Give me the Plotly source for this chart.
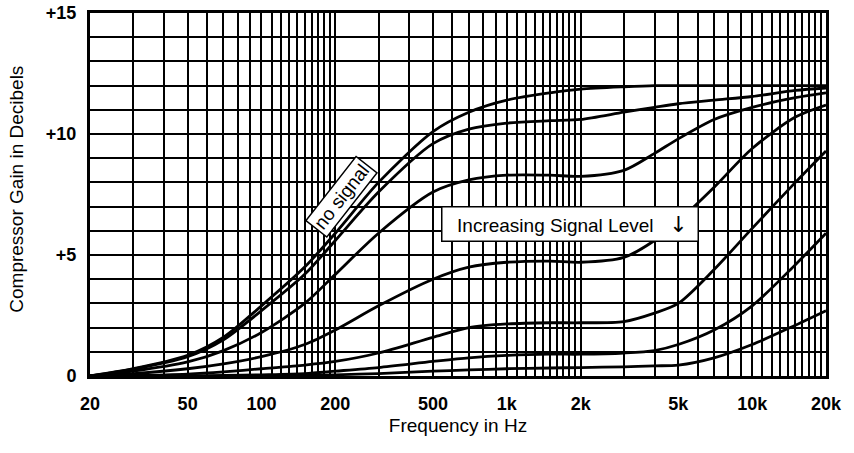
import plotly.graph_objects as go

freq = [20, 30, 50, 70, 100, 150, 200, 300, 500, 700, 1000, 1500, 2000, 3000, 4000, 5000, 7000, 10000, 15000, 20000]

# compressor gain (dB) for each signal level, top curve = no signal
gain_a = [0, 0.3, 0.85, 1.6, 2.9, 4.5, 5.9, 8.0, 10.1, 10.9, 11.4, 11.7, 11.85, 11.95, 12.0, 12.0, 12.0, 12.0, 12.0, 12.0]
gain_b = [0, 0.28, 0.8, 1.5, 2.7, 4.2, 5.6, 7.6, 9.6, 10.2, 10.45, 10.55, 10.6, 10.9, 11.1, 11.25, 11.4, 11.55, 11.8, 11.9]
gain_c = [0, 0.2, 0.58, 1.05, 1.8, 3.0, 4.2, 5.9, 7.6, 8.1, 8.3, 8.3, 8.25, 8.5, 9.2, 9.8, 10.6, 11.1, 11.5, 11.7]
gain_d = [0, 0.1, 0.3, 0.5, 0.8, 1.3, 1.9, 2.9, 4.0, 4.5, 4.7, 4.75, 4.7, 4.9, 5.6, 6.4, 7.8, 9.4, 10.7, 11.2]
gain_e = [0, 0.02, 0.08, 0.17, 0.3, 0.45, 0.6, 0.95, 1.6, 2.0, 2.15, 2.2, 2.2, 2.25, 2.6, 3.0, 4.4, 6.1, 8.0, 9.3]
gain_f = [0, 0, 0, 0.02, 0.05, 0.1, 0.2, 0.35, 0.6, 0.75, 0.85, 0.9, 0.9, 0.95, 1.05, 1.3, 1.9, 2.9, 4.6, 5.9]
gain_g = [0, 0, 0, 0, 0.02, 0.03, 0.05, 0.1, 0.2, 0.25, 0.3, 0.33, 0.35, 0.38, 0.42, 0.45, 0.75, 1.3, 2.1, 2.7]
curves = [gain_a, gain_b, gain_c, gain_d, gain_e, gain_f, gain_g]

x_tickvals = [20, 50, 100, 200, 500, 1000, 2000, 5000, 10000, 20000]
x_ticktext = ['20', '50', '100', '200', '500', '1k', '2k', '5k', '10k', '20k']
y_tickvals = [0, 5, 10, 15]
y_ticktext = ['0', '+5', '+10', '+15']

# log graph paper style grid
x_grid = (list(range(20, 100, 10)) + list(range(100, 200, 10)) + list(range(200, 1000, 100))
          + list(range(1000, 2000, 100)) + list(range(2000, 10000, 1000)) + list(range(10000, 20001, 1000)))

FONT = 'Liberation Sans, Arial, sans-serif'

fig = go.Figure()
for g in curves:
    fig.add_trace(go.Scatter(x=freq, y=g, mode='lines',
                             line=dict(color='black', width=2.8, shape='spline', smoothing=0.8),
                             showlegend=False, hoverinfo='skip'))

fig.add_annotation(x=2.325, y=7.4, xref='x', yref='y', text='no signal', showarrow=False,
                   textangle=-52, font=dict(family=FONT, size=19, color='black'),
                   bgcolor='white', bordercolor='black', borderwidth=1.5, borderpad=2)
fig.add_annotation(x=3.258, y=6.3, xref='x', yref='y',
                   text=('&nbsp;&nbsp;Increasing Signal Level&nbsp;&nbsp;&nbsp;'
                         '<span style="font-size:22px;color:black;font-family:DejaVu Sans">\u2193</span>&nbsp;'),
                   showarrow=False, font=dict(family=FONT, size=19, color='black'),
                   bgcolor='white', bordercolor='black', borderwidth=1.5, borderpad=4)

# y axis title placed as an annotation so it sits close to the left edge like the original
fig.add_annotation(x=-0.101, y=0.515, xref='paper', yref='paper', text='Compressor Gain in Decibels',
                   textangle=-90, showarrow=False, xanchor='center', yanchor='middle',
                   font=dict(family=FONT, size=19, color='black'))

fig.update_xaxes(type='log', range=[1.30103, 4.30103], automargin=False,
                 tickvals=x_tickvals, ticktext=x_ticktext,
                 tickfont=dict(family=FONT, size=18, color='black', weight='bold'),
                 ticks='', ticklabelstandoff=9, ticklabeloverflow='allow',
                 showgrid=True, gridcolor='black', gridwidth=1.5,
                 minor=dict(tickvals=x_grid, showgrid=True, gridcolor='black', gridwidth=1.5, ticks=''),
                 showline=True, linecolor='black', linewidth=3, mirror=True,
                 title=dict(text='Frequency in Hz', font=dict(family=FONT, size=19, color='black'), standoff=7),
                 zeroline=False)
fig.update_yaxes(range=[0, 15], automargin=False, tickvals=y_tickvals, ticktext=y_ticktext,
                 tickfont=dict(family=FONT, size=18, color='black', weight='bold'),
                 ticks='', ticklabelstandoff=7, ticklabeloverflow='allow',
                 showgrid=True, gridcolor='black', gridwidth=1.5,
                 minor=dict(dtick=1, showgrid=True, gridcolor='black', gridwidth=1.5, ticks=''),
                 showline=True, linecolor='black', linewidth=3, mirror=True,
                 zeroline=False)

fig.update_layout(width=854, height=453, margin=dict(l=90, r=28, t=13, b=77),
                  paper_bgcolor='white', plot_bgcolor='white')

# drop the default body margin so the figure sits at the page origin
fig.write_html("out.html", config={'displayModeBar': False},
               post_script="document.body.style.margin='0';")
